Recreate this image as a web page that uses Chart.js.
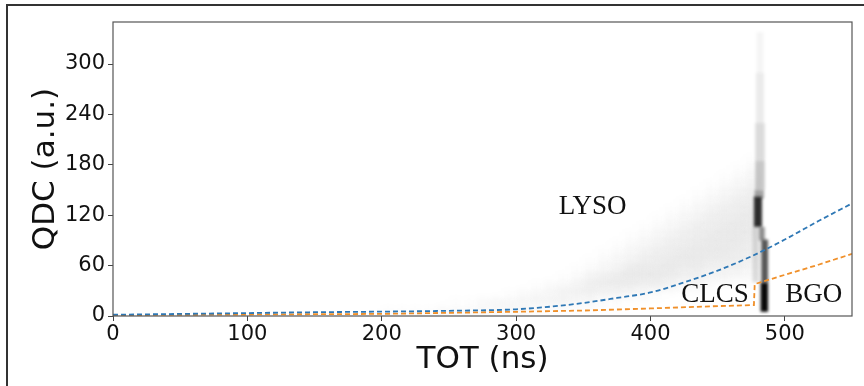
<!DOCTYPE html>
<html><head><meta charset="utf-8">
<script src="https://cdn.jsdelivr.net/npm/chart.js@4.4.0/dist/chart.umd.min.js"></script>
<style>
html,body{margin:0;padding:0;background:#fff;overflow:hidden;width:864px;height:386px;}
#frame{position:absolute;left:6px;top:4px;width:900px;height:420px;border-top:2px solid #333;border-left:2px solid #333;}
#wrap{position:absolute;left:0;top:0;width:864px;height:386px;}
</style></head><body>
<div id="frame"></div>
<div id="wrap"><canvas id="c" width="864" height="386"></canvas></div>
<script>
// ---- data ----
const xTicks = [0, 100, 200, 300, 400, 500];
const yTicks = [0, 60, 120, 180, 240, 300];

const blueTOT = [0, 50, 100, 150, 200, 250, 300, 325, 350, 375, 400, 425, 450, 475, 500, 525, 550];
const blueQDC = [1.5, 2.5, 3.5, 4.5, 5.2, 6.2, 8, 11, 15.5, 21.5, 28, 40, 54, 71, 91, 113, 134];

const orangeTOT = [0, 100, 200, 300, 350, 400, 450, 477, 477.6, 500, 525, 550];
const orangeQDC = [1, 1.8, 2.5, 5, 6.5, 9, 11.8, 13, 38, 49, 61, 74];

// density of the LYSO cloud: one string per 10-ns TOT column, one digit per 10-unit QDC bin (0..9)
const cloudTOT = [200,210,220,230,240,250,260,270,280,290,300,310,320,330,340,350,360,370,380,390,400,410,420,430,440,450,460,470];
const cloudDensity = [
  "1","1","1","1","2","21","21","22","23","231","232","1331","0332","03431","024421",
  "0245421","01355321","013564321","0025664321","00246654321","001466554321",
  "0003566554321","00024566554321","000245666554321","0001345666554321",
  "00003456666554321","000024556666554321","0000234556666554321"
];

// narrow vertical band near 480 ns: [TOT from, TOT to, QDC from, QDC to, darkness]
const bandCells = [
  [479, 484, 290, 338, 0.04],
  [478.5, 484.5, 230, 290, 0.08],
  [478, 485, 185, 230, 0.14],
  [478, 485, 150, 185, 0.22],
  [477.5, 484.5, 140, 150, 0.35],
  [477, 483, 106, 142, 0.82],
  [476, 481, 40, 106, 0.12],
  [481, 485, 90, 106, 0.45],
  [482.5, 487.5, 40, 91, 0.66],
  [482, 487.5, 5, 40, 0.97]
];

const regionNames = ["LYSO", "CLCS", "BGO"];
const regionTOT = [357, 448, 521.5];
const regionQDC = [129.5, 25, 25];

// ---- drawing ----
const toPts = (xs, ys) => xs.map((v, i) => ({x: v, y: ys[i]}));
const cloudStepTOT = 10, cloudStepQDC = 10;

const densityPlugin = {
  id: 'density',
  beforeDatasetsDraw(chart) {
    const {ctx, chartArea: a, scales: {x, y}} = chart;
    ctx.save();
    ctx.beginPath(); ctx.rect(a.left, a.top, a.width, a.height); ctx.clip();
    ctx.filter = 'blur(4px)';
    cloudTOT.forEach((t, i) => {
      const col = cloudDensity[i];
      for (let j = 0; j < col.length; j++) {
        const d = +col[j]; if (!d) continue;
        const x0 = x.getPixelForValue(t), x1 = x.getPixelForValue(t + cloudStepTOT);
        const y0 = y.getPixelForValue(j * cloudStepQDC), y1 = y.getPixelForValue((j + 1) * cloudStepQDC);
        ctx.fillStyle = `rgba(0,0,0,${d * 0.017})`;
        ctx.fillRect(x0, y1, x1 - x0, y0 - y1);
      }
    });
    ctx.filter = 'blur(1.8px)';
    bandCells.forEach(c => {
      const x0 = x.getPixelForValue(c[0]), x1 = x.getPixelForValue(c[1]);
      const y0 = y.getPixelForValue(c[2]), y1 = y.getPixelForValue(c[3]);
      ctx.fillStyle = `rgba(0,0,0,${c[4]})`;
      ctx.fillRect(x0, y1, x1 - x0, y0 - y1);
    });
    ctx.restore();
  },
  afterDatasetsDraw(chart) {
    const {ctx, scales: {x, y}} = chart;
    ctx.save();
    ctx.font = '27px "Liberation Serif", "Times New Roman", serif';
    ctx.fillStyle = '#111';
    ctx.textAlign = 'center';
    ctx.textBaseline = 'middle';
    regionNames.forEach((n, i) => ctx.fillText(n, x.getPixelForValue(regionTOT[i]), y.getPixelForValue(regionQDC[i])));
    ctx.restore();
  },
  afterDraw(chart) {
    const {ctx, chartArea: a} = chart;
    ctx.save();
    ctx.strokeStyle = '#555';
    ctx.lineWidth = 1.2;
    ctx.strokeRect(a.left, a.top, a.width, a.height);
    ctx.restore();
  }
};

const tickFont = {family: 'DejaVu Sans', size: 21};
const titleFont = {family: 'DejaVu Sans', size: 31};

new Chart(document.getElementById('c'), {
  type: 'scatter',
  data: {
    datasets: [
      {data: toPts(blueTOT, blueQDC), showLine: true, borderColor: '#2f78b5', borderWidth: 1.8,
       borderDash: [5, 3], pointRadius: 0, cubicInterpolationMode: 'monotone', fill: false},
      {data: toPts(orangeTOT, orangeQDC), showLine: true, borderColor: '#f0902a', borderWidth: 1.8,
       borderDash: [5, 3], pointRadius: 0, tension: 0, fill: false}
    ]
  },
  options: {
    responsive: false, animation: false, devicePixelRatio: 1,
    layout: {padding: {left: 0, top: 22, right: 12, bottom: 0}},
    plugins: {legend: {display: false}, tooltip: {enabled: false}},
    scales: {
      x: {
        type: 'linear', min: 0, max: 550,
        afterBuildTicks: s => { s.ticks = xTicks.map(v => ({value: v})); },
        afterFit: s => { s.height = 70; },
        grid: {display: true, drawOnChartArea: false, drawTicks: true, tickLength: 5, color: '#444'},
        border: {display: false},
        ticks: {font: tickFont, color: '#111', padding: 1, maxRotation: 0},
        title: {display: true, text: 'TOT (ns)', font: titleFont, color: '#111', padding: {top: 0, bottom: 7}}
      },
      y: {
        type: 'linear', min: 0, max: 350,
        afterBuildTicks: s => { s.ticks = yTicks.map(v => ({value: v})); },
        afterFit: s => { s.width = 113; },
        grid: {display: true, drawOnChartArea: false, drawTicks: true, tickLength: 5, color: '#444'},
        border: {display: false},
        ticks: {font: tickFont, color: '#111', padding: 3},
        title: {display: true, text: 'QDC (a.u.)', font: titleFont, color: '#111', padding: {top: 27, bottom: 0}}
      }
    }
  },
  plugins: [densityPlugin]
});
</script></body></html>
